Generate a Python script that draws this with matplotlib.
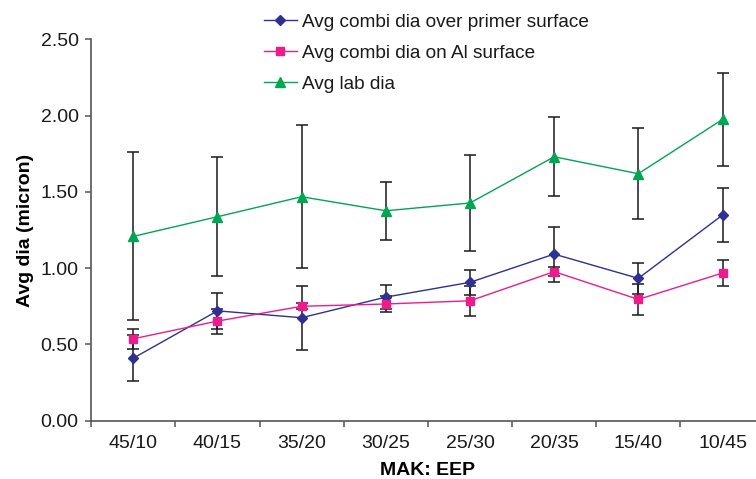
import matplotlib
matplotlib.use("Agg")
import matplotlib.pyplot as plt
import numpy as np

plt.rcParams['font.family'] = ['Liberation Sans', 'DejaVu Sans']

categories = ["45/10", "40/15", "35/20", "30/25", "25/30", "20/35", "15/40", "10/45"]

primer_vals = [0.41, 0.72, 0.675, 0.81, 0.907, 1.092, 0.933, 1.348]
primer_err = [0.15, 0.117, 0.21, 0.08, 0.08, 0.18, 0.10, 0.175]

al_vals = [0.537, 0.653, 0.75, 0.765, 0.786, 0.977, 0.795, 0.968]
al_err = [0.065, 0.082, 0.02, 0.05, 0.10, 0.03, 0.10, 0.085]

lab_vals = [1.208, 1.337, 1.468, 1.376, 1.427, 1.73, 1.619, 1.975]
lab_err = [0.55, 0.39, 0.47, 0.19, 0.316, 0.26, 0.30, 0.305]

series_labels = ["Avg combi dia over primer surface", "Avg combi dia on Al surface", "Avg lab dia"]

W, H = 756, 479
fig = plt.figure(figsize=(W / 100, H / 100), dpi=100)
left, right = 91.2 / W, 764.6 / W
bottom, top = (H - 420.7) / H, (H - 39.3) / H
ax = fig.add_axes([left, bottom, right - left, top - bottom])

x = np.arange(len(categories))

err_kw = dict(ecolor='#1a1a1a', elinewidth=1.1, capsize=4, capthick=1.1)

series = [
    (lab_vals, lab_err, '#00a651', '^', 7, series_labels[2]),
    (primer_vals, primer_err, '#2e3192', 'D', 5.5, series_labels[0]),
    (al_vals, al_err, '#ec1c8c', 's', 6, series_labels[1]),
]
handles = {}
for vals, err, col, mk, ms, lab in series:
    ax.errorbar(x, vals, yerr=err, fmt='none', zorder=2, **err_kw)
    h, = ax.plot(x, vals, color=col, marker=mk, markersize=ms, linewidth=1.0,
                 markeredgecolor=col, label=lab, zorder=3)
    handles[lab] = h

ax.set_xlim(-0.5, 7.5)
ax.set_ylim(0, 2.5)
ax.set_yticks([0, 0.5, 1.0, 1.5, 2.0, 2.5])
ax.set_yticklabels([f"{v:.2f}" for v in [0, 0.5, 1.0, 1.5, 2.0, 2.5]])
ax.set_xticks(x)
ax.set_xticklabels(categories)
ax.set_xticks(np.arange(-0.5, 8.0, 1.0), minor=True)

for s in ['top', 'right']:
    ax.spines[s].set_visible(False)
for s in ['left', 'bottom']:
    ax.spines[s].set_color('#555555')
    ax.spines[s].set_linewidth(1.2)

fs = 14
ax.tick_params(axis='y', which='major', direction='out', length=4.5, width=1.1,
               color='#555555', labelsize=fs, pad=4.5, labelcolor='#1a1a1a')
ax.tick_params(axis='x', which='major', length=0, labelsize=fs, pad=10, labelcolor='#1a1a1a')
ax.tick_params(axis='x', which='minor', direction='out', length=4.5, width=1.1, color='#555555')

ax.set_ylabel("Avg dia (micron)", fontsize=fs, fontweight='bold', labelpad=5)
ax.set_xlabel("MAK: EEP", fontsize=fs, fontweight='bold', labelpad=7.5)

leg = fig.legend([handles[l] for l in series_labels], series_labels,
                 loc='upper left', bbox_to_anchor=(251 / W, 1.0), frameon=False,
                 fontsize=13.7, handlelength=1.7, handletextpad=0.3,
                 labelspacing=0.72, borderpad=0.2, labelcolor='#1a1a1a')

fig.savefig("out.png", dpi=100)
